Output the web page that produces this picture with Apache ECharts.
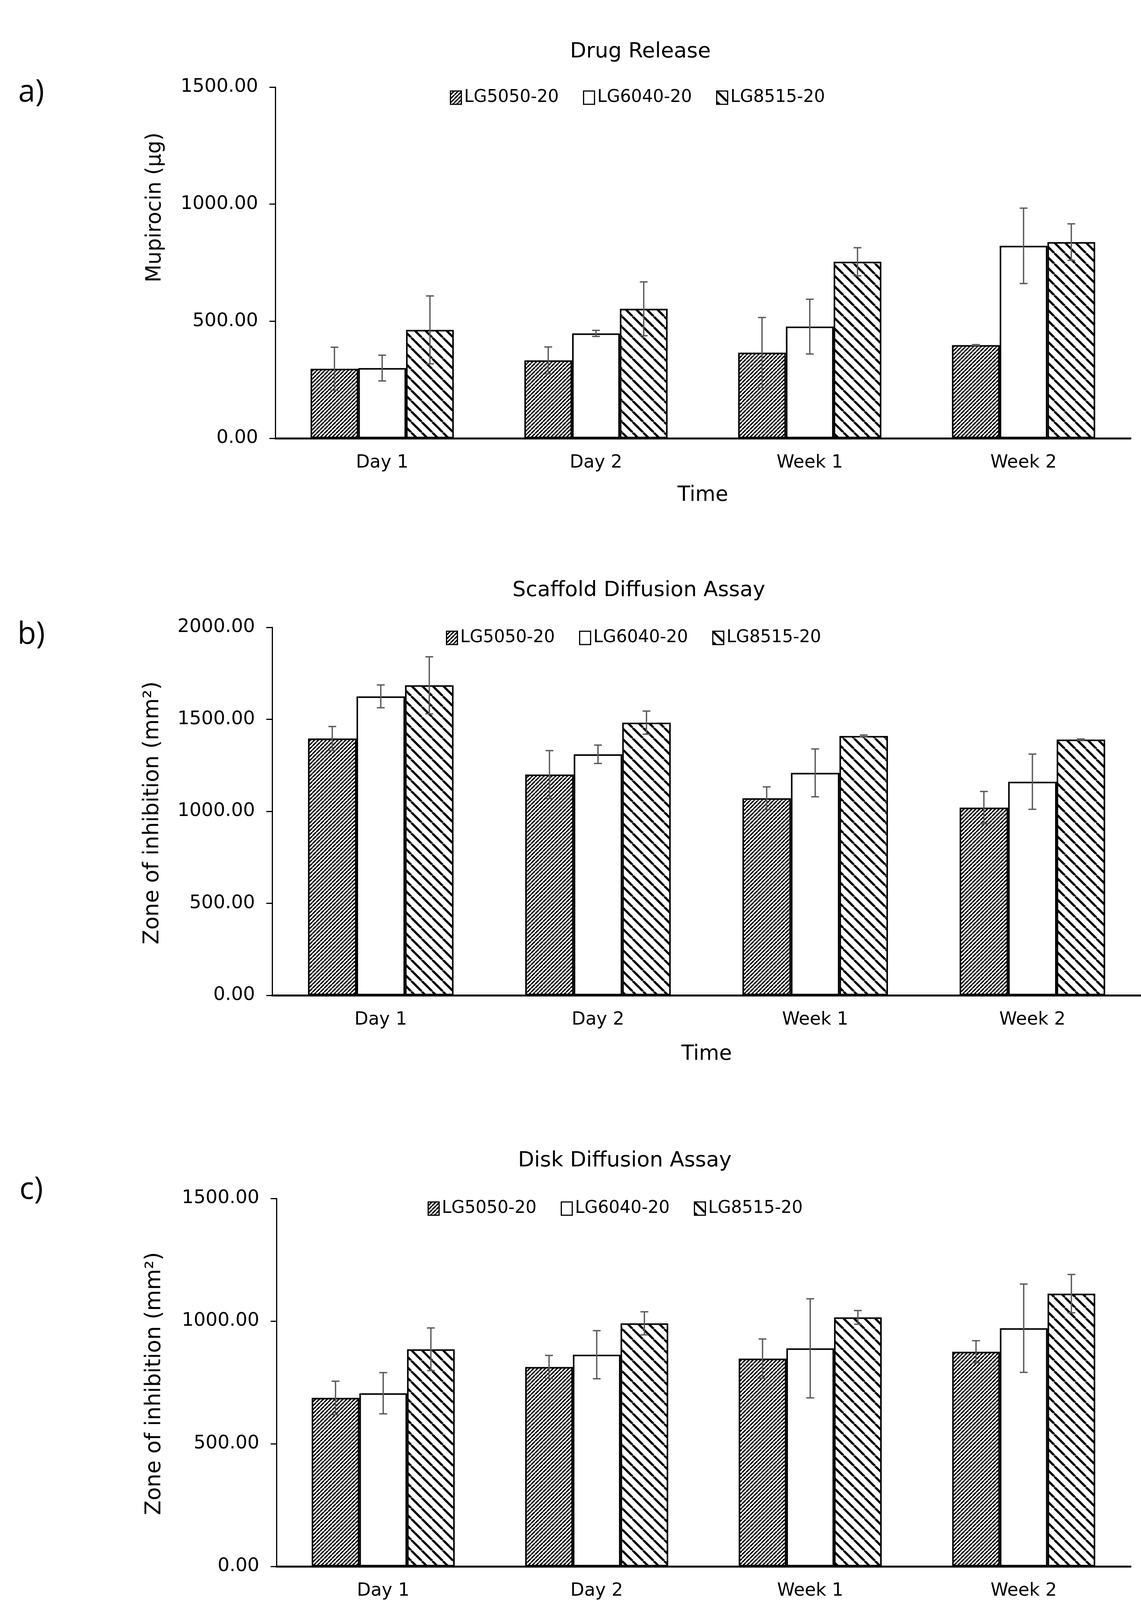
<!DOCTYPE html>
<html>
<head>
<meta charset="utf-8">
<script src="https://cdn.jsdelivr.net/npm/echarts@6/dist/echarts.min.js"></script>
<style>
  html, body { margin: 0; padding: 0; background: #fff; }
  #chart { width: 2922px; height: 4208px; }
</style>
</head>
<body>
<div id="chart"></div>
<script>
// ---------------- DATA ----------------
const categories = ['Day 1', 'Day 2', 'Week 1', 'Week 2'];
const seriesNames = ['LG5050-20', 'LG6040-20', 'LG8515-20'];

// a) Drug Release, Mupirocin (µg)
const releaseLG5050 = [297, 333, 366, 398];
const releaseLG6040 = [300, 448, 477, 822];
const releaseLG8515 = [463, 553, 754, 838];
const releaseErrLG5050 = [92, 57, 150, 2];
const releaseErrLG6040 = [55, 13, 117, 161];
const releaseErrLG8515 = [145, 115, 60, 78];

// b) Scaffold Diffusion Assay, Zone of inhibition (mm²)
const scaffoldLG5050 = [1396, 1200, 1071, 1020];
const scaffoldLG6040 = [1625, 1310, 1209, 1161];
const scaffoldLG8515 = [1685, 1482, 1410, 1390];
const scaffoldErrLG5050 = [65, 130, 62, 88];
const scaffoldErrLG6040 = [62, 50, 130, 150];
const scaffoldErrLG8515 = [155, 63, 5, 3];

// c) Disk Diffusion Assay, Zone of inhibition (mm²)
const diskLG5050 = [687, 813, 847, 875];
const diskLG6040 = [706, 863, 889, 971];
const diskLG8515 = [885, 991, 1015, 1112];
const diskErrLG5050 = [68, 47, 80, 45];
const diskErrLG6040 = [84, 98, 202, 180];
const diskErrLG8515 = [87, 47, 28, 78];

// axis ranges (ticks at 0.00, 500.00, ...)
const releaseMax = 1500, scaffoldMax = 2000, diskMax = 1500, yInterval = 500;

// ---------------- STYLE ----------------
const FONT = "'DejaVu Sans', sans-serif";
const CAT_GAP = 0.33;

function stripes(period, width, dir) {
  const c = document.createElement('canvas');
  c.width = period; c.height = period;
  const g = c.getContext('2d');
  g.fillStyle = '#fff'; g.fillRect(0, 0, period, period);
  g.strokeStyle = '#000'; g.lineWidth = width;
  for (let k = -1; k <= 1; k++) {
    g.beginPath();
    if (dir === 'up') { g.moveTo(k * period, period); g.lineTo(k * period + period, 0); }
    else { g.moveTo(k * period, 0); g.lineTo(k * period + period, period); }
    g.stroke();
  }
  return c;
}
const fills = [
  { image: stripes(10, 3.6, 'up'), repeat: 'repeat' },
  '#ffffff',
  { image: stripes(27, 5.6, 'down'), repeat: 'repeat' }
];

const panels = [
  { title: 'Drug Release', titleX: 1640, titleY: 106, label: 'a)', labelY: 238,
    yName: 'Mupirocin (μg)', yNameX: 397, yNameY: 531, yNameSize: 53,
    grid: { left: 705, right: 27, top: 223, height: 899 }, max: releaseMax,
    legendLeft: 1152, legendTop: 228, nameGap: 120,
    vals: [releaseLG5050, releaseLG6040, releaseLG8515],
    errs: [releaseErrLG5050, releaseErrLG6040, releaseErrLG8515] },
  { title: 'Scaffold Diffusion Assay', titleX: 1636, titleY: 1485, label: 'b)', labelY: 1626,
    yName: 'Zone of inhibition (mm²)', yNameX: 391, yNameY: 2081, yNameSize: 55,
    grid: { left: 697, right: 0, top: 1606, height: 942 }, max: scaffoldMax,
    legendLeft: 1142, legendTop: 1611, nameGap: 125,
    vals: [scaffoldLG5050, scaffoldLG6040, scaffoldLG8515],
    errs: [scaffoldErrLG5050, scaffoldErrLG6040, scaffoldErrLG8515] },
  { title: 'Disk Diffusion Assay', titleX: 1600, titleY: 2945, label: 'c)', labelY: 3047,
    yName: 'Zone of inhibition (mm²)', yNameX: 396, yNameY: 3542, yNameSize: 55,
    grid: { left: 708, right: 27, top: 3068, height: 942 }, max: diskMax,
    legendLeft: 1095, legendTop: 3072, nameGap: 125,
    vals: [diskLG5050, diskLG6040, diskLG8515],
    errs: [diskErrLG5050, diskErrLG6040, diskErrLG8515] }
];

const option = {
  backgroundColor: '#ffffff',
  animation: false,
  title: [], grid: [], xAxis: [], yAxis: [], legend: [], series: [], graphic: []
};

panels.forEach((p, pi) => {
  option.title.push({
    text: p.title, left: p.titleX, top: p.titleY, textAlign: 'center', padding: 0,
    textStyle: { fontFamily: FONT, fontSize: 54, fontWeight: 'normal', color: '#000' }
  });
  option.grid.push(Object.assign({ containLabel: false }, p.grid));
  option.xAxis.push({
    type: 'category', gridIndex: pi, data: categories,
    name: 'Time', nameLocation: 'middle', nameGap: p.nameGap,
    nameTextStyle: { fontFamily: FONT, fontSize: 53, color: '#000' },
    axisLine: { lineStyle: { color: '#000', width: 5 } },
    axisTick: { show: false },
    axisLabel: { margin: 40, fontFamily: FONT, fontSize: 46, color: '#000' },
    splitLine: { show: false }
  });
  option.yAxis.push({
    type: 'value', gridIndex: pi, min: 0, max: p.max, interval: yInterval,
    axisLine: { show: true, lineStyle: { color: '#000', width: 3 } },
    axisTick: { show: true, length: 15, lineStyle: { color: '#000', width: 3 } },
    axisLabel: { margin: 44, fontFamily: FONT, fontSize: 48, color: '#000',
                 formatter: v => v.toFixed(2) },
    splitLine: { show: false }
  });
  option.legend.push({
    data: seriesNames, left: p.legendLeft, top: p.legendTop, padding: 0,
    orient: 'horizontal', itemGap: 62, itemWidth: 28, itemHeight: 34,
    icon: 'rect', selectedMode: false,
    itemStyle: { borderColor: '#000', borderWidth: 3 },
    textStyle: { fontFamily: FONT, fontSize: 44, color: '#000', padding: [0, 0, 0, 2] }
  });
  seriesNames.forEach((name, si) => {
    option.series.push({
      type: 'bar', name: name, xAxisIndex: pi, yAxisIndex: pi,
      data: p.vals[si], barGap: '0%', barCategoryGap: (CAT_GAP * 100) + '%',
      itemStyle: { color: fills[si], borderColor: '#000', borderWidth: 4 },
      emphasis: { disabled: true }, z: 2
    });
  });
  const errData = [];
  seriesNames.forEach((name, si) => {
    categories.forEach((c, ci) => errData.push([ci, p.vals[si][ci], p.errs[si][ci], si]));
  });
  option.series.push({
    type: 'custom', name: 'err' + pi, xAxisIndex: pi, yAxisIndex: pi, z: 5,
    data: errData, encode: { x: 0, y: 1 },
    renderItem: function (params, api) {
      const ci = api.value(0), m = api.value(1), s = api.value(2), k = api.value(3);
      if (!(s > 0)) return;
      const catW = api.size([1, 0])[0];
      const bw = catW * (1 - CAT_GAP) / 3;
      const x = api.coord([ci, m])[0] + (k - 1) * bw;
      const yt = api.coord([ci, m + s])[1];
      const yb = api.coord([ci, m - s])[1];
      const st = { stroke: '#595959', lineWidth: 3.4 };
      const hw = 10;
      return { type: 'group', children: [
        { type: 'line', shape: { x1: x, y1: yt, x2: x, y2: yb }, style: st },
        { type: 'line', shape: { x1: x - hw, y1: yt, x2: x + hw, y2: yt }, style: st },
        { type: 'line', shape: { x1: x - hw, y1: yb, x2: x + hw, y2: yb }, style: st }
      ] };
    }
  });
  option.graphic.push({
    type: 'text', x: 80, y: p.labelY,
    style: { text: p.label, font: "78px 'Open Sans', sans-serif", fill: '#000',
             align: 'center', verticalAlign: 'middle' }
  });
  option.graphic.push({
    type: 'text', x: p.yNameX, y: p.yNameY, rotation: Math.PI / 2,
    style: { text: p.yName, font: p.yNameSize + "px 'DejaVu Sans', sans-serif", fill: '#000',
             align: 'center', verticalAlign: 'middle' }
  });
});

const chart = echarts.init(document.getElementById('chart'), null, { renderer: 'canvas' });
chart.setOption(option);
</script>
</body>
</html>
